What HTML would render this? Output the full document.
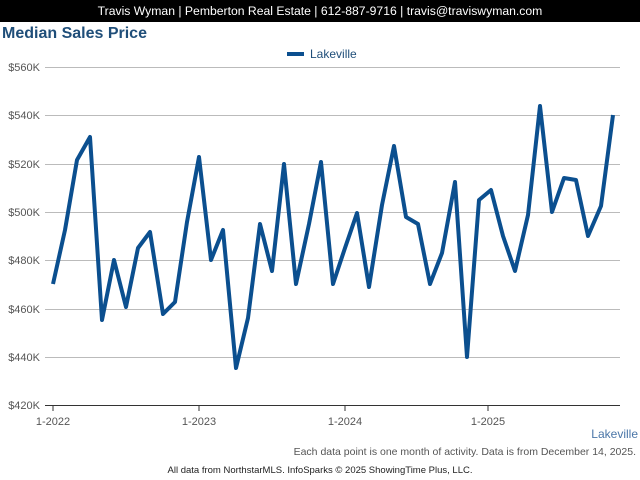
<!DOCTYPE html>
<html><head><meta charset="utf-8"><style>
body{margin:0;width:640px;height:480px;background:#fff;font-family:"Liberation Sans",Arial,sans-serif;overflow:hidden;position:relative}
.hdr{position:absolute;left:0;top:0;width:640px;height:22px;background:#000;color:#fff;font-size:12.2px;text-align:center;line-height:22px}
.t{position:absolute;left:2px;top:25px;font-size:16px;font-weight:bold;color:#1f4e79}
</style></head><body>
<div class="hdr">Travis Wyman | Pemberton Real Estate | 612-887-9716 | travis@traviswyman.com</div>
<div class="t">Median Sales Price</div>
<svg width="640" height="480" style="position:absolute;left:0;top:0" font-family="Liberation Sans, Arial, sans-serif">
<line x1="287" y1="54" x2="304" y2="54" stroke="#0b4f8f" stroke-width="4"/>
<text x="310" y="58" font-size="12" fill="#1f4e79">Lakeville</text>
<g stroke="#bbb" stroke-width="1">
<line x1="45" y1="67.5" x2="620" y2="67.5"/><line x1="45" y1="115.5" x2="620" y2="115.5"/>
<line x1="45" y1="164.5" x2="620" y2="164.5"/><line x1="45" y1="212.5" x2="620" y2="212.5"/>
<line x1="45" y1="260.5" x2="620" y2="260.5"/><line x1="45" y1="309.5" x2="620" y2="309.5"/>
<line x1="45" y1="357.5" x2="620" y2="357.5"/>
</g>
<line x1="45" y1="405.5" x2="620" y2="405.5" stroke="#333"/>
<g stroke="#333"><line x1="53" y1="405" x2="53" y2="411"/><line x1="199" y1="405" x2="199" y2="411"/><line x1="345" y1="405" x2="345" y2="411"/><line x1="488" y1="405" x2="488" y2="411"/></g>
<g font-size="11" fill="#555" text-anchor="end">
<text x="40" y="71">$560K</text><text x="40" y="119">$540K</text><text x="40" y="168">$520K</text><text x="40" y="216">$500K</text><text x="40" y="264">$480K</text><text x="40" y="313">$460K</text><text x="40" y="361">$440K</text><text x="40" y="409">$420K</text>
</g>
<g font-size="11" fill="#555" text-anchor="middle">
<text x="53" y="425">1-2022</text><text x="199" y="425">1-2023</text><text x="345" y="425">1-2024</text><text x="488" y="425">1-2025</text>
</g>
<polyline fill="none" stroke="#0b4f8f" stroke-width="4" stroke-linejoin="round" points="53,284 65,230 77,160 90,137 102,320 114,260 126,307 138,248 150,232 163,314 175,302 187,222 199,157 211,260 223,230 236,368 248,318 260,224 272,271 284,164 296,284 309,224 321,162 333,284 345,248 357,213 369,287 382,205 394,146 406,217 418,224 430,284 442,253 455,182 467,357 479,200 491,190 503,236 515,271 528,215 540,106 552,212 564,178 576,180 588,236 601,206 613,115"/>
<text x="638" y="438" font-size="12" fill="#4a76a8" text-anchor="end">Lakeville</text>
<text x="636" y="455" font-size="10.5" fill="#555" text-anchor="end">Each data point is one month of activity. Data is from December 14, 2025.</text>
<text x="320" y="473" font-size="9.5" fill="#222" text-anchor="middle">All data from NorthstarMLS. InfoSparks © 2025 ShowingTime Plus, LLC.</text>
</svg>
</body></html>
